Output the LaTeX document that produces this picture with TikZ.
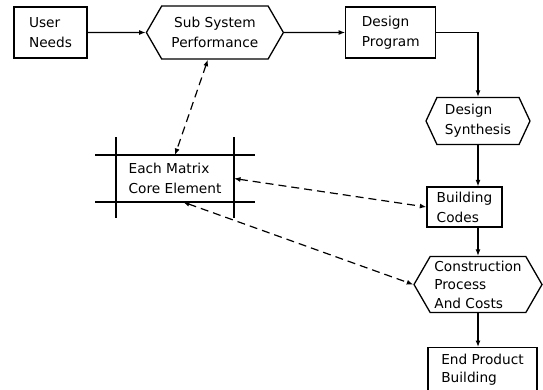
\documentclass[tikz,border=0pt]{standalone}
\usepackage{fontspec}
\setmainfont{DejaVu Sans}
\usetikzlibrary{arrows.meta,positioning,shapes.symbols}

\begin{document}
\begin{tikzpicture}[
  x=1pt, y=-1pt,
  >={Latex[length=6.5pt,width=5pt]},
  every node/.style={font=\fontsize{13.7}{20}\selectfont},
  mybox/.style={
    draw,
    line width=1.3pt,
    align=left,
    inner sep=3pt
  },
  myhex/.style={
    draw,
    line width=1.3pt,
    signal,
    signal to=west and east,
    signal pointer angle=120,
    align=left,
    inner sep=2pt
  },
  flow/.style={->, line width=1.2pt},
  link/.style={<->, line width=1.2pt, dash pattern=on 8pt off 5pt}
]
\useasboundingbox (0,0) rectangle (543,389);
\clip (0,0) rectangle (543,389);

% Ligne du haut
\node[mybox, minimum width=73pt, minimum height=51pt] (needs) at (50.5,32.5) {User\\Needs};
\node[myhex, align=center, minimum width=137pt, minimum height=53pt, right=58pt of needs] (subsys) {Sub System\\Performance};
\node[mybox, minimum width=90pt, minimum height=51pt, right=61pt of subsys] (prog) {Design\\Program};

% Colonne de droite
\node[myhex, signal pointer angle=130, minimum width=104pt, minimum height=47pt] (synth) at (478,121) {Design\\Synthesis};
\node[mybox, minimum width=75pt, minimum height=40pt] (codes) at (464.5,207) {Building\\Codes};
\node[myhex, font=\fontsize{13.7}{18.5}\selectfont, minimum width=128pt, minimum height=56pt] (constr) at (478,284.5) {Construction\\Process\\And Costs};
\node[mybox, font=\fontsize{13.7}{18}\selectfont, minimum width=109pt, minimum height=44pt, anchor=north] (endp) at (482.5,347) {End Product\\Building};

% Matrice
\node[align=left, inner sep=0pt, outer sep=0pt, minimum width=118pt, minimum height=47pt] (matrix) at (175,178.5) {Each Matrix\\Core Element};
\draw[line width=1.3pt] ([xshift=-21pt]matrix.north west) -- ([xshift=21pt]matrix.north east);
\draw[line width=1.3pt] ([xshift=-21pt]matrix.south west) -- ([xshift=21pt]matrix.south east);
\draw[line width=1.3pt] ([yshift=18pt]matrix.north west) -- ([yshift=-16pt]matrix.south west);
\draw[line width=1.3pt] ([yshift=18pt]matrix.north east) -- ([yshift=-16pt]matrix.south east);

% Flèches
\draw[flow] (needs) -- (subsys);
\draw[flow] (subsys) -- (prog);
\draw[flow] (prog.east) -| (synth.north);
\draw[flow] (synth.south) -- (synth.south |- codes.north);
\draw[flow] (synth.south |- codes.south) -- (constr.north);
\draw[flow] (constr.south) -- (constr.south |- endp.north);

% Liens
\draw[link] ([xshift=-7pt]subsys.south) -- (matrix.north);
\draw[link] (matrix.east) -- (codes.west);
\draw[link] ([xshift=8pt]matrix.south) -- (constr.west);
\end{tikzpicture}
\end{document}
